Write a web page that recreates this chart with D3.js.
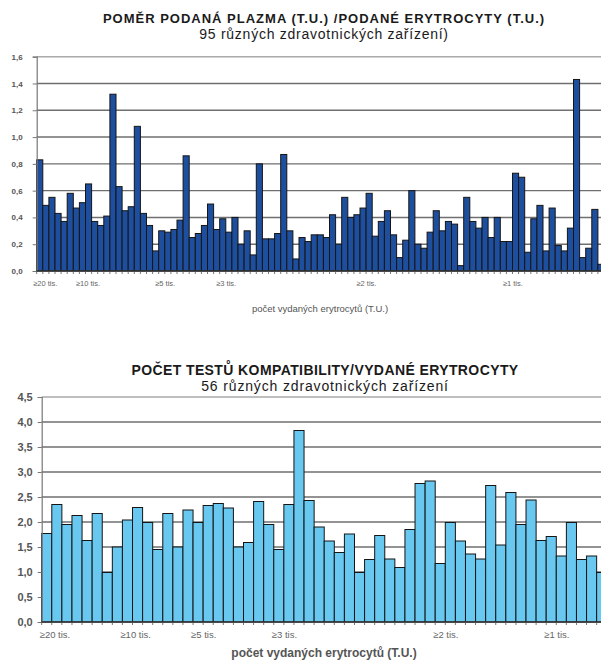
<!DOCTYPE html>
<html>
<head>
<meta charset="utf-8">
<script src="https://cdn.jsdelivr.net/npm/d3@7"></script>
<style>
    body { margin: 0; background: #fff; }
    svg text { font-family: "Liberation Sans", Arial, sans-serif; }
</style>
</head>
<body>
<div id="charts"></div>
<script>

// chart 1 - plasma / erythrocytes ratio (the last 2 of 95 bars are cut off at the right edge)
var plasmaValues = [
    0.83, 0.49, 0.55, 0.43, 0.37, 0.58, 0.47, 0.51, 0.65, 0.37,
    0.34, 0.41, 1.32, 0.63, 0.45, 0.48, 1.08, 0.43, 0.34, 0.15,
    0.30, 0.29, 0.31, 0.38, 0.86, 0.25, 0.28, 0.34, 0.50, 0.31,
    0.39, 0.29, 0.40, 0.20, 0.30, 0.12, 0.80, 0.24, 0.24, 0.28,
    0.87, 0.30, 0.09, 0.25, 0.22, 0.27, 0.27, 0.25, 0.42, 0.20,
    0.55, 0.40, 0.42, 0.47, 0.58, 0.26, 0.37, 0.45, 0.27, 0.10,
    0.23, 0.60, 0.20, 0.17, 0.29, 0.45, 0.30, 0.37, 0.35, 0.04,
    0.55, 0.37, 0.32, 0.40, 0.25, 0.40, 0.22, 0.22, 0.73, 0.70,
    0.14, 0.39, 0.49, 0.15, 0.47, 0.19, 0.15, 0.32, 1.43, 0.10,
    0.17, 0.46, 0.05
];
var plasmaTicks = [0, 0.2, 0.4, 0.6, 0.8, 1.0, 1.2, 1.4, 1.6];
var plasmaLabelIndex = [0, 7, 20, 30, 53, 77];
var plasmaLabelText = ["≥20 tis.", "≥10 tis.", "≥5 tis.", "≥3 tis.", "≥2 tis.", "≥1 tis."];

// chart 2 - compatibility tests / issued erythrocytes
var compatValues = [
    1.77, 2.35, 1.95, 2.13, 1.63, 2.17, 0.99, 1.50, 2.04, 2.29,
    1.99, 1.45, 2.17, 1.50, 2.24, 1.99, 2.33, 2.37, 2.28, 1.50,
    1.59, 2.41, 1.95, 1.45, 2.35, 3.83, 2.43, 1.90, 1.62, 1.39,
    1.76, 0.99, 1.25, 1.73, 1.26, 1.09, 1.85, 2.77, 2.82, 1.17,
    1.99, 1.62, 1.36, 1.26, 2.73, 1.54, 2.59, 1.95, 2.44, 1.63,
    1.71, 1.32, 1.99, 1.25, 1.32, 0.99
];
var compatTicks = [0, 0.5, 1.0, 1.5, 2.0, 2.5, 3.0, 3.5, 4.0, 4.5];
var compatLabelIndex = [0, 8, 15, 23, 39, 50];
var compatLabelText = ["≥20 tis.", "≥10 tis.", "≥5 tis.", "≥3 tis.", "≥2 tis.", "≥1 tis."];

var W = 601, H = 661;

var svg = d3.select("#charts").append("svg")
    .attr("width", W)
    .attr("height", H);

function drawChart(opt) {
    var g = svg.append("g");

    var x = d3.scaleBand()
        .domain(d3.range(opt.values.length))
        .range([opt.left, opt.right])
        .padding(0);

    var y = d3.scaleLinear()
        .domain([0, opt.ticks[opt.ticks.length - 1]])
        .range([opt.bottom, opt.top]);

    // titles
    g.append("text")
        .attr("x", opt.titleX).attr("y", opt.titleY)
        .attr("text-anchor", "middle")
        .style("font-weight", "bold")
        .style("font-size", opt.titleSize + "px")
        .style("letter-spacing", opt.titleSpacing + "px")
        .style("fill", "#1a1a1a")
        .text(opt.title);
    g.append("text")
        .attr("x", opt.titleX).attr("y", opt.titleY + opt.subGap)
        .attr("text-anchor", "middle")
        .style("font-size", opt.subSize + "px")
        .style("letter-spacing", opt.subSpacing + "px")
        .style("fill", "#1a1a1a")
        .text(opt.subtitle);

    // horizontal grid
    g.append("g").selectAll("line")
        .data(opt.ticks.slice(1))
        .join("line")
        .attr("x1", opt.left).attr("x2", W)
        .attr("y1", function(d) { return y(d); })
        .attr("y2", function(d) { return y(d); })
        .attr("stroke", function(d, i) { return i === opt.ticks.length - 2 ? "#aaa" : "#6f6f6f"; })
        .attr("stroke-width", 1.4);

    // bars
    g.append("g").selectAll("rect")
        .data(opt.values)
        .join("rect")
        .attr("x", function(d, i) { return x(i); })
        .attr("y", function(d) { return y(d); })
        .attr("width", x.bandwidth())
        .attr("height", function(d) { return opt.bottom - y(d); })
        .attr("fill", opt.color)
        .attr("stroke", "#151515")
        .attr("stroke-width", 1);

    // y axis
    var yAxis = d3.axisLeft(y)
        .tickValues(opt.ticks)
        .tickSize(4)
        .tickPadding(opt.tickPad)
        .tickFormat(function(d) { return d.toFixed(1).replace(".", ","); });
    var ya = g.append("g")
        .attr("transform", "translate(" + opt.left + ",0)")
        .call(yAxis);
    ya.select(".domain").attr("stroke", "#777").attr("stroke-width", 1.2);
    ya.selectAll(".tick line").attr("stroke", "#777");
    ya.selectAll(".tick text")
        .style("font-size", opt.yFont + "px")
        .style("font-weight", opt.yWeight)
        .style("fill", "#555")
        .style("font-family", "'Liberation Sans', Arial, sans-serif");

    // x baseline with ticks at each bar boundary
    var xa = g.append("g");
    xa.append("line")
        .attr("x1", opt.left).attr("x2", W)
        .attr("y1", opt.bottom).attr("y2", opt.bottom)
        .attr("stroke", "#333").attr("stroke-width", 1.3);
    xa.selectAll("line.tk")
        .data(d3.range(opt.values.length + 1))
        .join("line")
        .attr("class", "tk")
        .attr("x1", function(i) { return opt.left + i * x.bandwidth(); })
        .attr("x2", function(i) { return opt.left + i * x.bandwidth(); })
        .attr("y1", opt.bottom).attr("y2", opt.bottom + 3)
        .attr("stroke", "#555").attr("stroke-width", 0.8);

    // sparse category labels
    xa.selectAll("text")
        .data(opt.labelIndex)
        .join("text")
        .attr("x", function(d) { return x(d) + opt.labelShift; })
        .attr("y", opt.labelY)
        .style("font-size", opt.labelFont + "px")
        .style("fill", "#666")
        .text(function(d, i) { return opt.labelText[i]; });

    // axis title
    g.append("text")
        .attr("x", opt.axisTitleX).attr("y", opt.axisTitleY)
        .attr("text-anchor", "middle")
        .style("font-size", opt.axisTitleSize + "px")
        .style("font-weight", opt.axisTitleWeight)
        .style("fill", "#555")
        .text("počet vydaných erytrocytů (T.U.)");
}

drawChart({
    values: plasmaValues, ticks: plasmaTicks,
    labelIndex: plasmaLabelIndex, labelText: plasmaLabelText,
    left: 36.7, right: 36.7 + 6.1 * plasmaValues.length,
    top: 56.7, bottom: 271,
    color: "#1e4f9f",
    title: "POMĚR PODANÁ PLAZMA (T.U.) /PODANÉ ERYTROCYTY (T.U.)",
    subtitle: "95 různých zdravotnických zařízení)",
    titleX: 324, titleY: 23, titleSize: 13, titleSpacing: 1.0,
    subGap: 15.5, subSize: 14, subSpacing: 0.75,
    tickPad: 10, yFont: 8, yWeight: "bold",
    labelY: 286, labelFont: 7.5, labelShift: -3.5,
    axisTitleX: 320, axisTitleY: 312, axisTitleSize: 9.5, axisTitleWeight: "normal"
});

drawChart({
    values: compatValues, ticks: compatTicks,
    labelIndex: compatLabelIndex, labelText: compatLabelText,
    left: 41.7, right: 41.7 + 10.09 * compatValues.length,
    top: 397, bottom: 622,
    color: "#69c8f0",
    title: "POČET TESTŮ KOMPATIBILITY/VYDANÉ ERYTROCYTY",
    subtitle: "56 různých zdravotnických zařízení",
    titleX: 325, titleY: 374.5, titleSize: 14, titleSpacing: 0.4,
    subGap: 16, subSize: 14, subSpacing: 0.85,
    tickPad: 5, yFont: 11, yWeight: "bold",
    labelY: 638, labelFont: 9.5, labelShift: -2,
    axisTitleX: 324, axisTitleY: 657, axisTitleSize: 12, axisTitleWeight: "bold"
});

</script>
</body>
</html>
